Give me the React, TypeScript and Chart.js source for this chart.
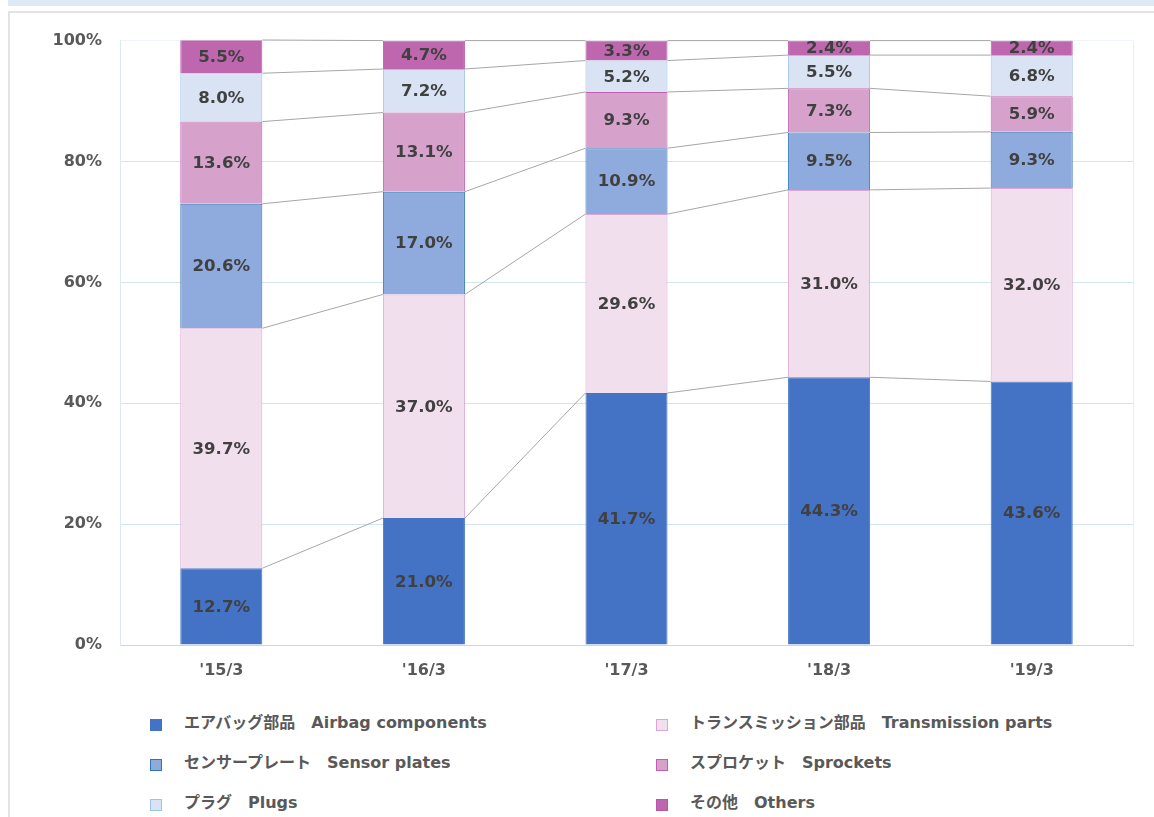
import React, { useEffect, useRef } from "react";
import { Chart, registerables } from "chart.js";

Chart.register(...registerables);

const categories = ["'15/3", "'16/3", "'17/3", "'18/3", "'19/3"];

const airbag = [12.7, 21.0, 41.7, 44.3, 43.6];
const transmission = [39.7, 37.0, 29.6, 31.0, 32.0];
const sensor = [20.6, 17.0, 10.9, 9.5, 9.3];
const sprockets = [13.6, 13.1, 9.3, 7.3, 5.9];
const plugs = [8.0, 7.2, 5.2, 5.5, 6.8];
const others = [5.5, 4.7, 3.3, 2.4, 2.4];

const seriesNames = [
  "エアバッグ部品　Airbag components",
  "トランスミッション部品　Transmission parts",
  "センサープレート　Sensor plates",
  "スプロケット　Sprockets",
  "プラグ　Plugs",
  "その他　Others",
];
const seriesValues = [airbag, transmission, sensor, sprockets, plugs, others];
const fillColors = ["#4472C4", "#F2DFEE", "#8FAADC", "#D6A2CC", "#DAE3F3", "#BE67AE"];
const borderColors = ["#4472C4", "#DCA6D3", "#2E75B6", "#C35DB0", "#9DC3E6", "#B856A7"];

const yTicks = [0, 20, 40, 60, 80, 100];

const FONT = "'DejaVu Sans', 'Noto Sans CJK JP', sans-serif";

const connectorPlugin = {
  id: "connectors",
  afterDatasetsDraw(chart: any) {
    const ctx = chart.ctx;
    ctx.save();
    ctx.strokeStyle = "#A6A6A6";
    ctx.lineWidth = 1;
    chart.data.datasets.forEach((_: any, di: number) => {
      const meta = chart.getDatasetMeta(di);
      const els = meta.data;
      for (let j = 0; j < els.length - 1; j++) {
        const a = els[j].getProps(["x", "y", "width"], true);
        const b = els[j + 1].getProps(["x", "y", "width"], true);
        ctx.beginPath();
        ctx.moveTo(a.x + a.width / 2, a.y);
        ctx.lineTo(b.x - b.width / 2, b.y);
        ctx.stroke();
      }
    });
    ctx.restore();
  },
};

const labelPlugin = {
  id: "valueLabels",
  afterDatasetsDraw(chart: any) {
    const ctx = chart.ctx;
    ctx.save();
    ctx.font = "bold 16.6px " + FONT;
    ctx.fillStyle = "#404040";
    ctx.textAlign = "center";
    ctx.textBaseline = "middle";
    chart.data.datasets.forEach((ds: any, di: number) => {
      const meta = chart.getDatasetMeta(di);
      meta.data.forEach((el: any, j: number) => {
        const p = el.getProps(["x", "y", "base"], true);
        const v = ds.data[j];
        ctx.fillText(v.toFixed(1) + "%", p.x, (p.y + p.base) / 2 + 1);
      });
    });
    ctx.restore();
  },
};

const framePlugin = {
  id: "frame",
  beforeDatasetsDraw(chart: any) {
    const { ctx, chartArea } = chart;
    ctx.save();
    ctx.strokeStyle = "#E6EFF8";
    ctx.lineWidth = 1;
    ctx.beginPath();
    ctx.moveTo(chartArea.right + 0.5, chartArea.top);
    ctx.lineTo(chartArea.right + 0.5, chartArea.bottom);
    ctx.stroke();
    ctx.restore();
  },
};

export default function App() {
  const ref = useRef<HTMLCanvasElement | null>(null);

  useEffect(() => {
    if (!ref.current) return;
    const chart = new Chart(ref.current, {
      type: "bar",
      data: {
        labels: categories,
        datasets: seriesValues.map((vals, i) => ({
          label: seriesNames[i],
          data: vals,
          backgroundColor: fillColors[i],
          borderColor: borderColors[i],
          borderWidth: 1,
          barPercentage: 0.81,
          categoryPercentage: 0.5,
        })),
      },
      options: {
        responsive: false,
        animation: false,
        layout: { padding: { left: 0, top: 27, right: 21, bottom: 0 } },
        plugins: {
          legend: { display: false },
          tooltip: { enabled: false },
        },
        scales: {
          x: {
            stacked: true,
            grid: { display: false },
            border: { display: true, color: "#D4D4D4", width: 1 },
            ticks: {
              color: "#595959",
              font: { family: FONT, size: 16, weight: "bold" },
              padding: 8,
            },
            afterFit: (scale: any) => {
              scale.height = 58;
            },
          },
          y: {
            stacked: true,
            min: 0,
            max: 100,
            grid: {
              drawTicks: false,
              color: (c: any) => (c.tick && c.tick.value === 100 ? "#EEF4FA" : "#D5E4F3"),
            },
            border: { display: true, color: "#DCE8F4", width: 1 },
            afterBuildTicks: (scale: any) => {
              scale.ticks = yTicks.map((v) => ({ value: v }));
            },
            ticks: {
              color: "#595959",
              font: { family: FONT, size: 16, weight: "bold" },
              padding: 18,
              callback: (v: any) => v + "%",
            },
            afterFit: (scale: any) => {
              scale.width = 110;
            },
          },
        },
      },
      plugins: [framePlugin, connectorPlugin, labelPlugin],
    });
    return () => chart.destroy();
  }, []);

  const legendPos = [
    { x: 150, y: 722 },
    { x: 656, y: 722 },
    { x: 150, y: 762 },
    { x: 656, y: 762 },
    { x: 150, y: 802 },
    { x: 656, y: 802 },
  ];

  return (
    <div
      style={{
        position: "absolute",
        left: 0,
        top: 0,
        width: 1154,
        height: 817,
        overflow: "hidden",
        background: "#ffffff",
      }}
    >
      <div
        style={{
          position: "absolute",
          left: 8,
          top: 0,
          width: 1146,
          height: 6,
          background: "#DDEAF6",
        }}
      />
      <div
        style={{
          position: "absolute",
          left: 8,
          top: 11,
          width: 1160,
          height: 830,
          border: "2px solid #E3E3E3",
          boxSizing: "border-box",
        }}
      />
      <canvas
        ref={ref}
        width={1144}
        height={690}
        style={{ position: "absolute", left: 10, top: 13, width: 1144, height: 690 }}
      />
      {seriesNames.map((name, i) => (
        <div key={i}>
          <div
            style={{
              position: "absolute",
              left: legendPos[i].x,
              top: legendPos[i].y - 3,
              width: 12,
              height: 12,
              boxSizing: "border-box",
              background: fillColors[i],
              border: "1px solid " + borderColors[i],
            }}
          />
          <div
            style={{
              position: "absolute",
              left: legendPos[i].x + 34,
              top: legendPos[i].y - 9,
              lineHeight: "20px",
              fontSize: 16,
              fontWeight: "bold",
              fontFamily: FONT,
              color: "#595959",
              whiteSpace: "nowrap",
            }}
          >
            {name}
          </div>
        </div>
      ))}
    </div>
  );
}
